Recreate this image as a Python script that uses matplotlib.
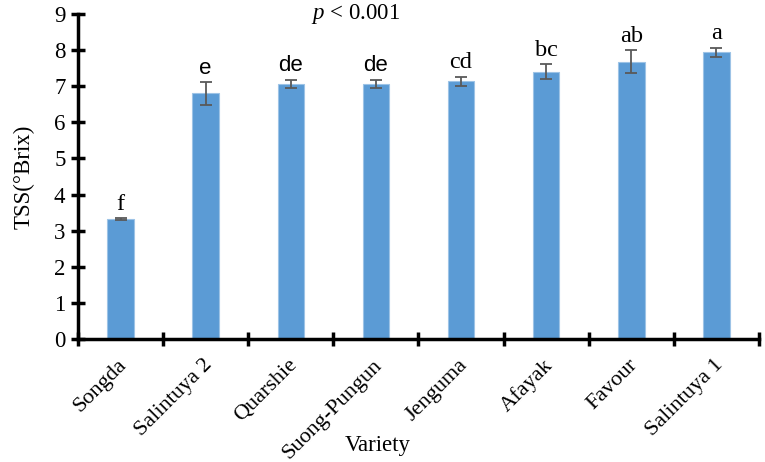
import numpy as np
import matplotlib.pyplot as plt
import matplotlib.transforms as mtransforms

varieties = ['Songda', 'Salintuya 2', 'Quarshie', 'Suong-Pungun', 'Jenguma',
             'Afayak', 'Favour', 'Salintuya 1']
tss = [3.32, 6.80, 7.06, 7.06, 7.14, 7.40, 7.68, 7.94]
err = [0.02, 0.31, 0.12, 0.12, 0.12, 0.21, 0.31, 0.13]
letters = ['f', 'e', 'de', 'de', 'cd', 'bc', 'ab', 'a']
# some letters are sans (Arial) in the original, others serif
letter_fonts = ['Liberation Serif', 'Liberation Sans', 'Liberation Sans', 'Liberation Sans',
                'Liberation Serif', 'Liberation Serif', 'Liberation Serif', 'Liberation Serif']

plt.rcParams['font.family'] = 'Liberation Serif'
plt.rcParams['mathtext.fontset'] = 'custom'
plt.rcParams['mathtext.rm'] = 'Liberation Serif'
plt.rcParams['mathtext.it'] = 'Liberation Serif:italic'

fig = plt.figure(figsize=(7.65, 4.62), dpi=100)
ax = fig.add_axes([78/765, 1 - 339/462, (759-78)/765, (339-14)/462])

x = np.arange(len(varieties))
ax.bar(x, tss, width=0.31, color='#5B9BD5', edgecolor='#9DC3E6', linewidth=0.8, zorder=2)
ax.errorbar(x, tss, yerr=err, fmt='none', ecolor='#595959', elinewidth=1.3,
            capsize=4, capthick=1.3, zorder=3)

for xi, v, e, lab, fnt in zip(x, tss, err, letters, letter_fonts):
    sz = 16 if fnt == 'Liberation Sans' else 17.5
    ax.text(xi, v + e + 0.1, lab, ha='center', va='bottom', fontsize=sz, family=fnt)

ax.set_xlim(-0.5, len(varieties) - 0.5)
ax.set_ylim(0, 9)
ax.set_yticks(range(10))
ax.set_xticks(np.arange(len(varieties) + 1) - 0.5)
ax.set_xticklabels([])
ax.set_xticks(x, minor=True)
ax.set_xticklabels(varieties, minor=True, rotation=45, ha='right', rotation_mode='anchor',
                   fontsize=16)
ax.tick_params(axis='x', which='minor', length=0, pad=12)
ax.tick_params(axis='x', which='major', direction='inout', length=10, width=2.5)
ax.tick_params(axis='y', direction='inout', length=10, width=2.5, labelsize=16.5, pad=4)

# nudge category labels a little left, as in the original
shift = mtransforms.ScaledTranslation(-3/100, 0, fig.dpi_scale_trans)
for lbl in ax.get_xticklabels(minor=True):
    lbl.set_transform(lbl.get_transform() + shift)

for s in ['top', 'right']:
    ax.spines[s].set_visible(False)
for s in ['left', 'bottom']:
    ax.spines[s].set_linewidth(2.5)

ax.set_ylabel('TSS(°Brix)', fontsize=16.5, labelpad=14)
ax.set_xlabel('Variety', fontsize=16.5, labelpad=0)
ax.xaxis.set_label_coords(0.44, -0.295)

ax.text(0.408, 1.0, r'$p$ < 0.001', transform=ax.transAxes, fontsize=16.5,
        ha='center', va='center')

fig.savefig('out.png', dpi=100)
